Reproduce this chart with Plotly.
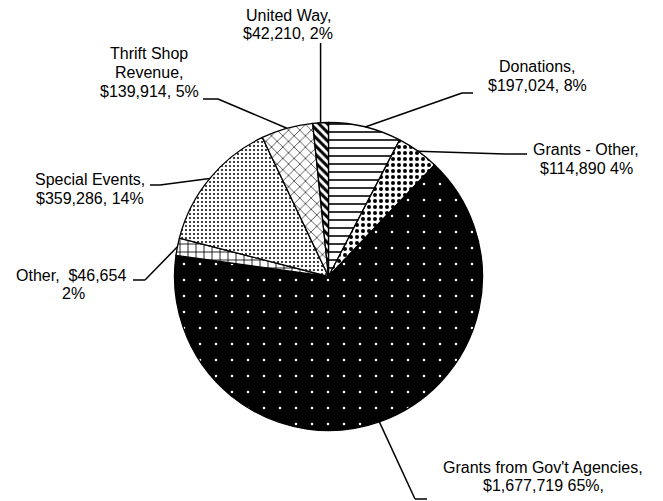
import math
import plotly.graph_objects as go

# ---- data ----
categories = ["Donations", "Grants - Other", "Grants from Gov't Agencies", "Other",
              "Special Events", "Thrift Shop Revenue", "United Way"]
values = [197024, 114890, 1677719, 46654, 359286, 139914, 42210]
label_lines = [
    ["Donations,", "$197,024, 8%"],
    ["Grants - Other,", "$114,890 4%"],
    ["Grants from Gov't Agencies,", "$1,677,719 65%,"],
    ["Other,  $46,654", "2%"],
    ["Special Events,", "$359,286, 14%"],
    ["Thrift Shop", "Revenue,", "$139,914, 5%"],
    ["United Way,", "$42,210, 2%"],
]

W, H = 663, 501
CX, CY, R = 328.5, 276.5, 154.0
LINE_H = 18.7

def px(x):
    return x / W

def py(y):
    return 1 - y / H

patterns = [
    dict(shape="-", fgcolor="black", bgcolor="white", size=8, solidity=0.2),
    dict(shape=".", fgcolor="black", bgcolor="white", size=6, solidity=0.35),
    dict(shape=".", fgcolor="white", bgcolor="black", size=16, solidity=0.02),
    dict(shape="+", fgcolor="black", bgcolor="white", size=8, solidity=0.2),
    dict(shape=".", fgcolor="black", bgcolor="white", size=4, solidity=0.2),
    dict(shape="x", fgcolor="black", bgcolor="white", size=8, solidity=0.15),
    dict(shape="\\", fgcolor="black", bgcolor="white", size=6, solidity=0.5),
]

fig = go.Figure(go.Pie(
    labels=categories,
    values=values,
    sort=False,
    direction="clockwise",
    rotation=0,
    textinfo="none",
    hoverinfo="skip",
    showlegend=False,
    marker=dict(
        colors=["white"] * len(values),
        line=dict(color="black", width=1.3),
        pattern=dict(
            shape=[p["shape"] for p in patterns],
            fgcolor=[p["fgcolor"] for p in patterns],
            bgcolor=[p["bgcolor"] for p in patterns],
            size=[p["size"] for p in patterns],
            solidity=[p["solidity"] for p in patterns],
        ),
    ),
    domain=dict(x=[px(CX - R), px(CX + R)], y=[py(CY + R), py(CY - R)]),
))

# label layout: (elbow x, elbow y, end x, end y, text center x, first line y)
label_layout = [
    (462, 93, 473, 93, 537, 67),
    (505, 154, 527, 154, 586, 150),
    (415, 499, 427, 499, 543, 467),
    (145, 280, 133, 280, None, 275),
    (160, 185, 150, 185, 90, 180),
    (218, 99, 203, 99, 149, 54),
    (None, 43, None, 43, 288, 15),
]

total = sum(values)
cum = 0.0
shapes = []
annotations = []
font = dict(family="Liberation Sans, Arial", size=16, color="black")
for v, lines, lay in zip(values, label_lines, label_layout):
    mid = (cum + v / 2) / total * 2 * math.pi
    cum += v
    sx = CX + R * math.sin(mid)
    sy = CY - R * math.cos(mid)
    ex, ey, fx, fy, tx, ty = lay
    if ex is None:
        ex = fx = sx
    shapes.append(dict(type="line", xref="paper", yref="paper",
                       x0=px(sx), y0=py(sy), x1=px(ex), y1=py(ey),
                       line=dict(color="black", width=1.5)))
    shapes.append(dict(type="line", xref="paper", yref="paper",
                       x0=px(ex), y0=py(ey), x1=px(fx), y1=py(fy),
                       line=dict(color="black", width=1.5)))
    for i, ln in enumerate(lines):
        if tx is None:
            if i == 0:
                ax, xa = 128, "right"
            else:
                ax, xa = 73, "center"
        else:
            ax, xa = tx, "center"
        annotations.append(dict(text=ln, x=px(ax), y=py(ty + i * LINE_H),
                                xref="paper", yref="paper",
                                showarrow=False, xanchor=xa, yanchor="middle",
                                font=font))

fig.update_layout(
    width=W, height=H,
    margin=dict(l=0, r=0, t=0, b=0),
    paper_bgcolor="white",
    plot_bgcolor="white",
    shapes=shapes,
    annotations=annotations,
)

fig.write_html("out.html")
